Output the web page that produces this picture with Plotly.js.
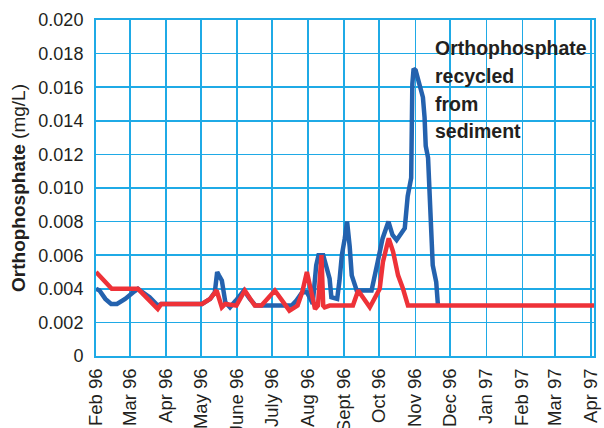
<!DOCTYPE html>
<html>
<head>
<meta charset="utf-8">
<script src="https://cdn.plot.ly/plotly-3.0.1.min.js"></script>
<style>
html,body{margin:0;padding:0;background:#fff;}
#chart{width:604px;height:428px;}
</style>
</head>
<body>
<div id="chart"></div>
<script>
// ---- data ----
const blueDates = [
 "1996-02-01","1996-02-04","1996-02-09","1996-02-14","1996-02-19","1996-02-26",
 "1996-03-04","1996-03-08","1996-03-10","1996-03-18","1996-03-25","1996-03-28",
 "1996-05-02","1996-05-09","1996-05-13","1996-05-15","1996-05-16 12:00","1996-05-19",
 "1996-05-22","1996-05-26","1996-05-31","1996-06-07","1996-06-12","1996-06-17",
 "1996-07-18","1996-07-22","1996-07-27","1996-07-31","1996-08-03","1996-08-05",
 "1996-08-08","1996-08-10","1996-08-14","1996-08-17","1996-08-19 12:00","1996-08-21",
 "1996-08-26","1996-08-28","1996-08-30","1996-09-01 12:00","1996-09-03 12:00","1996-09-05 18:00",
 "1996-09-07 12:00","1996-09-11 18:00","1996-09-24 12:00","1996-09-29 18:00","1996-10-04","1996-10-09",
 "1996-10-12 12:00","1996-10-16","1996-10-23","1996-10-25 12:00","1996-10-28 12:00","1996-10-29 12:00",
 "1996-10-30 14:00","1996-11-01 08:00","1996-11-04","1996-11-07 14:00","1996-11-09","1996-11-10",
 "1996-11-12","1996-11-14 18:00","1996-11-16","1996-11-19","1996-11-20 12:00"
];
const blueValues = [
 0.0040,0.0039,0.0034,0.0031,0.0031,0.0034,
 0.0038,0.0040,0.0039,0.0035,0.0030,0.0031,
 0.0031,0.0034,0.0038,0.0050,0.0048,0.0045,
 0.0032,0.0029,0.0033,0.0039,0.0034,0.0030,
 0.0030,0.0033,0.0038,0.0038,0.0034,0.0031,
 0.0054,0.0060,0.0060,0.0053,0.0046,0.0035,
 0.0034,0.0045,0.0060,0.0070,0.0080,0.0065,
 0.0048,0.0039,0.0039,0.0056,0.0070,0.0080,
 0.0072,0.0069,0.0076,0.0095,0.0106,0.0162,
 0.0171,0.0170,0.0163,0.0154,0.0142,0.0125,
 0.0118,0.0071,0.0054,0.0044,0.0030
];
const redDates = [
 "1996-02-01","1996-02-14 12:00","1996-03-08","1996-03-25","1996-03-28","1996-05-02",
 "1996-05-09","1996-05-14 12:00","1996-05-19","1996-05-22","1996-05-31 12:00","1996-06-07 18:00",
 "1996-06-16 06:00","1996-06-22","1996-07-03 12:00","1996-07-16","1996-07-23","1996-07-27",
 "1996-07-31","1996-08-04","1996-08-07","1996-08-09 12:00","1996-08-12 12:00","1996-08-14",
 "1996-08-15 06:00","1996-08-19 12:00","1996-09-08 12:00","1996-09-13","1996-09-17","1996-09-23",
 "1996-10-01 12:00","1996-10-04 06:00","1996-10-09 06:00","1996-10-13","1996-10-17 06:00","1996-10-21 12:00",
 "1996-10-25 18:00","1997-04-03 10:00"
];
const redValues = [
 0.0050,0.0040,0.0040,0.0028,0.0031,0.0031,
 0.0034,0.0039,0.0029,0.0031,0.0030,0.0039,
 0.0030,0.0030,0.0039,0.0027,0.0030,0.0038,
 0.0050,0.0036,0.0028,0.0030,0.0060,0.0030,
 0.0029,0.0030,0.0030,0.0039,0.0035,0.0029,
 0.0040,0.0056,0.0070,0.0062,0.0048,0.0040,
 0.0030,0.0030
];
const xTickDates = ["1996-02-01","1996-03-01","1996-04-01","1996-05-01","1996-06-01","1996-07-01","1996-08-01",
 "1996-09-01","1996-10-01","1996-11-01","1996-12-01","1997-01-01","1997-02-01","1997-03-01","1997-04-01"];
const xTickLabels = ["Feb 96","Mar 96","Apr 96","May 96","June 96","July 96","Aug 96",
 "Sept 96","Oct 96","Nov 96","Dec 96","Jan 97","Feb 97","Mar 97","Apr 97"];
const yTickValues = [0,0.002,0.004,0.006,0.008,0.010,0.012,0.014,0.016,0.018,0.020];
const yTickLabels = ["0","0.002","0.004","0.006","0.008","0.010","0.012","0.014","0.016","0.018","0.020"];
const annotationLines = ["Orthophosphate","recycled","from","sediment"];

const GRID = "#1FAAE6";
const TEXT = "#231F20";

const traces = [
 {x: blueDates, y: blueValues, type: "scatter", mode: "lines",
  line: {color: "#2462AE", width: 4.5, shape: "linear"}, hoverinfo: "skip"},
 {x: redDates, y: redValues, type: "scatter", mode: "lines",
  line: {color: "#EE3238", width: 4.5, shape: "linear"}, hoverinfo: "skip"}
];

// vertical placement (paper fraction) of each annotation line
const annY = [0.918, 0.834, 0.751, 0.670];

const layout = {
 width: 604, height: 428,
 margin: {l: 96, r: 9.5, t: 19.5, b: 71.5, pad: 0},
 paper_bgcolor: "#ffffff", plot_bgcolor: "#ffffff",
 showlegend: false,
 font: {family: "Liberation Sans, Arial, sans-serif", color: TEXT, size: 18},
 xaxis: {
  type: "date",
  range: ["1996-02-01", "1997-04-03 10:00"],
  tickmode: "array", tickvals: xTickDates, ticktext: xTickLabels,
  tickangle: -90, tickfont: {size: 18.5, color: TEXT},
  showgrid: true, gridcolor: GRID, gridwidth: 1.5,
  showline: true, linecolor: GRID, linewidth: 2, mirror: true,
  zeroline: false, ticks: "", ticklabelstandoff: 3, automargin: false
 },
 yaxis: {
  range: [0, 0.020],
  tickmode: "array", tickvals: yTickValues, ticktext: yTickLabels,
  tickfont: {size: 18, color: TEXT},
  showgrid: true, gridcolor: GRID, gridwidth: 1.5,
  showline: true, linecolor: GRID, linewidth: 2, mirror: true,
  zeroline: false, ticks: "", ticklabelstandoff: 7, automargin: false,
  title: {text: "<b>Orthophosphate</b> (mg/L)", font: {size: 19, color: TEXT}, standoff: 8}
 },
 annotations: annotationLines.map((t, i) => ({
  xref: "paper", yref: "paper", x: 0.676, y: annY[i],
  xanchor: "left", yanchor: "middle", align: "left", showarrow: false,
  text: "<b>" + t + "</b>",
  font: {family: "Liberation Sans, Arial, sans-serif", size: 19.5, color: TEXT}
 }))
};

Plotly.newPlot("chart", traces, layout, {staticPlot: true, displayModeBar: false});
</script>
</body>
</html>
